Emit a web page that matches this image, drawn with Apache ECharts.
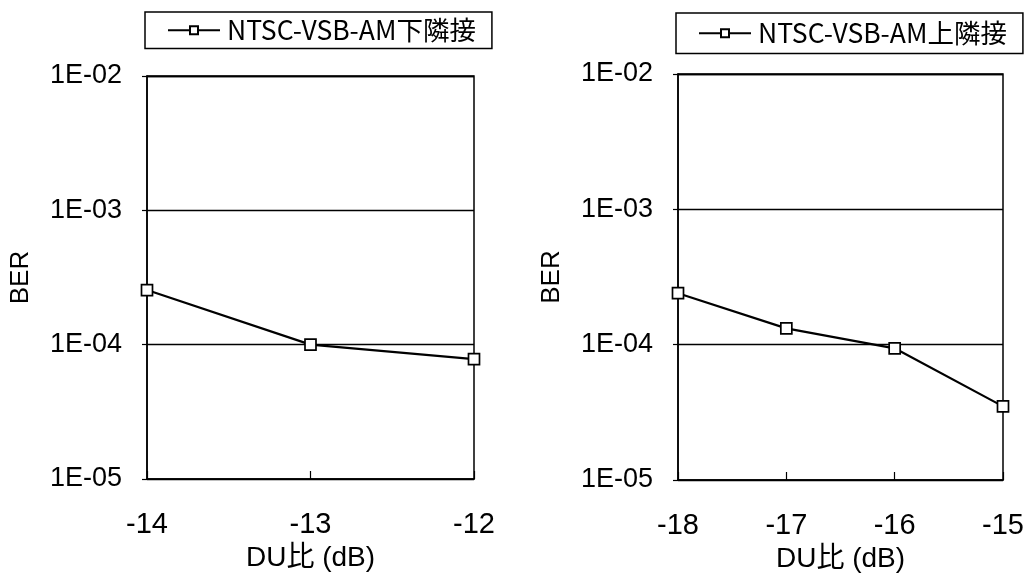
<!DOCTYPE html>
<html>
<head>
<meta charset="utf-8">
<script src="https://cdn.jsdelivr.net/npm/echarts@6/dist/echarts.min.js"></script>
<style>
  html, body { margin: 0; padding: 0; background: #fff; }
  #chart { width: 1030px; height: 575px; }
</style>
</head>
<body>
<div id="chart"></div>
<script>
// Lower adjacent channel (下隣接): DU ratio vs BER
const lowerDU = [-14, -13, -12];
const lowerBER = [2.55e-4, 1.0e-4, 7.8e-5];
const lowerName = 'NTSC-VSB-AM下隣接';

// Upper adjacent channel (上隣接): DU ratio vs BER
const upperDU = [-18, -17, -16, -15];
const upperBER = [2.4e-4, 1.32e-4, 9.4e-5, 3.5e-5];
const upperName = 'NTSC-VSB-AM上隣接';

// Shared axis text
const yTickLabels = { '-2': '1E-02', '-3': '1E-03', '-4': '1E-04', '-5': '1E-05' };
const yName = 'BER';
const xName = 'DU比 (dB)';

const latin = "'Liberation Sans', Arial, 'Noto Sans CJK JP', sans-serif";
const cjk = "'Noto Sans CJK JP', sans-serif";

function pairs(xs, ys) { return xs.map((x, i) => [x, ys[i]]); }

function yAxis(gridIndex, gap) {
  return {
    type: 'log', logBase: 10, min: 1e-5, max: 1e-2, gridIndex,
    name: yName, nameLocation: 'middle', nameRotate: 90, nameGap: gap,
    nameTextStyle: { fontFamily: latin, fontSize: 26, color: '#000' },
    axisLine: { show: true, lineStyle: { color: '#000', width: 1.5 } },
    axisTick: { show: true, inside: false, length: 5, lineStyle: { color: '#000', width: 1.2 } },
    minorTick: { show: false },
    splitLine: { show: true, lineStyle: { color: '#000', width: 1.4 } },
    axisLabel: {
      margin: 25, fontFamily: latin, fontSize: 27, color: '#000',
      padding: [10, 0, 0, 0],
      formatter: v => yTickLabels[String(Math.round(Math.log10(v)))] || ''
    }
  };
}

function xAxis(gridIndex, min, max) {
  return {
    type: 'value', min, max, interval: 1, gridIndex,
    name: xName, nameLocation: 'middle', nameGap: 64,
    nameTextStyle: { fontFamily: latin, fontSize: 28, color: '#000' },
    axisLine: { show: true, lineStyle: { color: '#000', width: 1.5 } },
    axisTick: { show: true, inside: true, length: 8, lineStyle: { color: '#000', width: 1.2 } },
    splitLine: { show: false },
    axisLabel: { margin: 31, fontFamily: latin, fontSize: 29, color: '#000' }
  };
}

function legend(name, left, top, pad) {
  return {
    data: [name], left, top,
    padding: pad, itemGap: 0, itemWidth: 52, itemHeight: 10,
    borderColor: '#000', borderWidth: 1.5, backgroundColor: '#fff',
    textStyle: { fontFamily: cjk, fontSize: 26.5, color: '#000', padding: [0, 0, 0, 2] }
  };
}

function series(name, data, xi, yi) {
  return {
    name, type: 'line', data, xAxisIndex: xi, yAxisIndex: yi,
    symbol: 'rect', symbolSize: 11, clip: false,
    lineStyle: { color: '#000', width: 2.2 },
    itemStyle: { color: '#fff', borderColor: '#000', borderWidth: 1.7 },
    emphasis: { disabled: true }
  };
}

const gridBase = {
  show: true, borderColor: '#000', borderWidth: 1.5,
  containLabel: false, outerBoundsMode: 'none'
};

const chart = echarts.init(document.getElementById('chart'), null, { renderer: 'canvas' });
chart.setOption({
  backgroundColor: '#fff',
  animation: false,
  legend: [
    legend(lowerName, 145, 12, [5, 16, 5, 22]),
    legend(upperName, 676, 13, [7, 16, 7, 22])
  ],
  grid: [
    Object.assign({ left: 147, right: 556, top: 76, bottom: 96 }, gridBase),
    Object.assign({ left: 678, right: 27, top: 74, bottom: 95 }, gridBase)
  ],
  xAxis: [xAxis(0, -14, -12), xAxis(1, -18, -15)],
  yAxis: [yAxis(0, 113), yAxis(1, 113)],
  series: [
    series(lowerName, pairs(lowerDU, lowerBER), 0, 0),
    series(upperName, pairs(upperDU, upperBER), 1, 1)
  ]
});
</script>
</body>
</html>
